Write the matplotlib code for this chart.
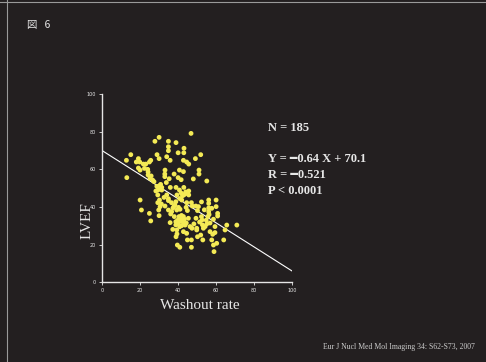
import numpy as np
import matplotlib.pyplot as plt

# washout rate (%) vs LVEF (%) for each patient
washout = [
    47.0, 30.2, 28.0, 35.1, 39.1, 35.1, 35.1, 43.3, 40.2, 43.2, 29.1, 15.3, 52.1,
    13.0, 19.3, 20.0, 18.2, 30.2, 34.2, 36.0, 25.8, 25.1, 21.9, 23.2, 49.3, 44.7,
    45.8, 43.0, 40.9, 43.0, 51.2, 51.2, 33.3, 24.2, 20.2, 19.3, 24.4, 24.4, 25.4,
    13.2, 33.2, 33.2, 38.1, 40.2, 41.8, 48.2, 55.3, 27.5, 26.8, 30.5, 31.6, 29.5,
    31.6, 36.1, 39.1, 43.2, 40.9, 41.8, 44.2, 45.8, 45.8, 43.2, 39.6, 34.2, 29.5,
    32.8, 35.1, 35.1, 30.4, 36.7, 39.0, 42.1, 44.7, 47.2, 20.2, 29.5, 31.4, 38.1,
    40.4, 39.5, 41.2, 44.4, 45.1, 47.7, 49.5, 50.9, 50.4, 52.5, 56.3, 56.3, 56.3,
    56.3, 60.2, 57.9, 60.2, 20.9, 30.7, 30.0, 33.3, 35.1, 36.8, 25.1, 30.2, 36.3,
    38.2, 40.7, 43.0, 45.6, 49.6, 52.5, 55.9, 61.0, 61.0, 58.8, 52.8, 25.8, 36.0,
    39.0, 41.2, 43.0, 40.4, 42.1, 43.9, 46.5, 47.5, 50.0, 54.4, 55.3, 53.5, 59.6,
    65.8, 71.1, 64.9, 57.0, 59.6, 58.4, 50.0, 39.5, 37.4, 43.0, 39.6, 39.1, 44.7,
    45.1, 47.2, 50.4, 52.1, 53.2, 57.9, 64.2, 58.8, 60.5, 39.8, 41.1, 47.2, 59.1,
    41.5, 42.5, 40.0, 43.5, 41.0, 44.5, 39.0, 42.0, 29.0, 30.5, 31.0, 28.5, 42.5,
    44.0, 41.0, 37.5, 38.5, 55.0, 57.0, 56.5, 54.0, 48.5, 51.5, 53.0, 22.5, 26.0,
    34.0, 35.5,
]
lvef = [
    79.1, 77.0, 74.9, 74.9, 74.2, 72.0, 69.9, 71.2, 68.8, 68.8, 67.8, 67.8, 67.8,
    64.8, 65.7, 63.9, 63.9, 65.7, 66.7, 64.8, 64.8, 63.9, 62.8, 62.8, 65.7, 63.9,
    62.8, 64.8, 59.6, 58.8, 59.6, 57.5, 59.6, 60.0, 59.6, 60.7, 58.6, 57.0, 55.2,
    55.6, 57.5, 56.1, 57.5, 55.6, 54.5, 54.9, 53.8, 53.5, 54.3, 51.3, 50.4, 49.0,
    49.0, 50.4, 50.4, 50.4, 49.0, 47.4, 48.0, 48.5, 46.4, 46.4, 46.4, 46.4, 46.4,
    45.1, 44.4, 43.4, 43.7, 42.3, 42.8, 43.7, 42.3, 42.3, 43.7, 42.3, 41.6, 40.5,
    39.8, 38.4, 38.8, 39.8, 38.1, 40.5, 40.5, 40.2, 38.1, 42.7, 43.7, 41.9, 39.5,
    37.5, 43.7, 39.3, 40.2, 38.4, 40.2, 38.4, 40.5, 38.4, 37.5, 36.6, 35.4, 36.3,
    34.9, 34.9, 34.9, 34.0, 34.0, 34.9, 34.9, 36.6, 35.2, 33.5, 33.1, 32.6, 31.7,
    32.2, 32.7, 31.7, 31.0, 30.1, 30.4, 29.6, 28.7, 28.7, 29.6, 31.0, 28.7, 29.6,
    30.4, 30.4, 27.8, 26.9, 26.4, 25.5, 27.8, 27.8, 28.1, 26.9, 25.7, 24.2, 26.0,
    22.5, 22.5, 24.2, 25.1, 22.5, 22.5, 22.5, 19.8, 20.7, 19.8, 18.6, 18.6, 16.3,
    33.5, 32.5, 33.0, 33.5, 29.5, 31.5, 30.5, 35.5, 51.0, 49.5, 52.0, 48.5, 46.0,
    47.0, 44.5, 39.5, 41.0, 33.0, 31.5, 36.0, 38.5, 31.0, 32.0, 30.5, 60.5, 56.5,
    53.0, 55.0,
]

n_patients = 185
slope, intercept = -0.64, 70.1
r_value = -0.521

bg = '#231f20'
fg = '#e6e6e6'

fig = plt.figure(figsize=(4.86, 3.62), dpi=100, facecolor=bg)
ax = fig.add_axes([0.2093, 0.2202, 0.391, 0.520])
ax.set_facecolor(bg)

ax.scatter(washout, lvef, s=12, color='#f4ea55', edgecolors='none', zorder=3)

xs = np.array([0, 100])
ax.plot(xs, slope * xs + intercept, color='white', lw=0.8, zorder=2)

ax.set_xlim(0, 100)
ax.set_ylim(0, 100)
ax.set_xticks(range(0, 101, 20))
ax.set_yticks(range(0, 101, 20))
for side in ['top', 'right']:
    ax.spines[side].set_visible(False)
for side in ['left', 'bottom']:
    ax.spines[side].set_color(fg)
    ax.spines[side].set_linewidth(1.0)
ax.tick_params(colors=fg, labelsize=3.5, length=2, width=0.6, pad=2)

fig.text(0.180, 0.39, 'LVEF', rotation=90, ha='center', va='center',
         color=fg, fontsize=11, family='Liberation Serif')
fig.text(0.411, 0.157, 'Washout rate', ha='center', va='center',
         color=fg, fontsize=11, family='Liberation Serif')

# heavy bar for the minus sign, falls back to DejaVu Sans for the glyph
stats = dict(color=fg, fontsize=9, family=['Liberation Serif', 'DejaVu Sans'],
             fontweight='bold', ha='left', va='center')
fig.text(0.551, 1 - 128 / 362, f'N = {n_patients}', **stats)
fig.text(0.551, 1 - 159 / 362, f'Y = \u2501{abs(slope):.2f} X + {intercept}', **stats)
fig.text(0.551, 1 - 175 / 362, f'R = \u2501{abs(r_value):.3f}', **stats)
fig.text(0.551, 1 - 191 / 362, 'P < 0.0001', **stats)

fig.text(27 / 486, 1 - 25 / 362, '図   6', ha='left', va='center', color=fg,
         fontsize=7.5, family=['Noto Sans CJK JP', 'DejaVu Sans'])
fig.text(0.977, 1 - 347 / 362, 'Eur J Nucl Med Mol Imaging 34: S62-S73, 2007',
         ha='right', va='center', color='#cccccc', fontsize=5.6,
         family='Liberation Serif')

# thin frame edges of the slide
fig.add_artist(plt.Line2D([7 / 486, 7 / 486], [0, 1], color='#9a9a9a', lw=0.8))
fig.add_artist(plt.Line2D([0, 1], [1 - 1.5 / 362, 1 - 1.5 / 362], color='#9a9a9a', lw=0.8))

fig.savefig('out.png', dpi=100, facecolor=bg)
